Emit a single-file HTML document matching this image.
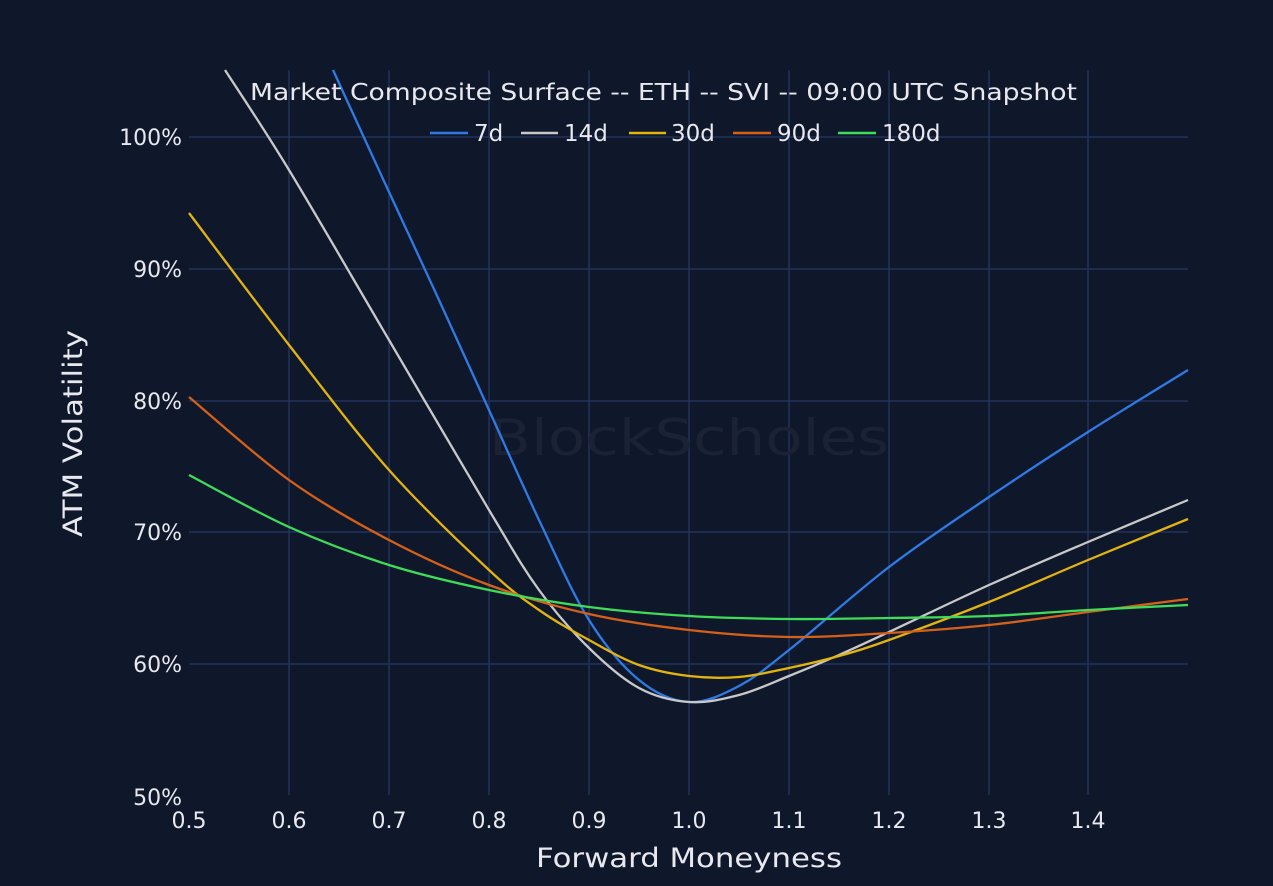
<!DOCTYPE html>
<html><head><meta charset="utf-8"><style>
body{margin:0;background:#0f182b;}
svg{display:block;font-family:"DejaVu Sans","Liberation Sans",sans-serif;}
</style></head><body>
<svg id="s" width="1273" height="886" viewBox="0 0 1273 886">
<rect width="1273" height="886" fill="#0f182b"/>
<g stroke="#22325a" stroke-width="1.5">
<line x1="289" y1="70" x2="289" y2="795"/><line x1="389" y1="70" x2="389" y2="795"/>
<line x1="489" y1="70" x2="489" y2="795"/><line x1="589" y1="70" x2="589" y2="795"/>
<line x1="689" y1="70" x2="689" y2="795"/><line x1="789" y1="70" x2="789" y2="795"/>
<line x1="889" y1="70" x2="889" y2="795"/><line x1="989" y1="70" x2="989" y2="795"/>
<line x1="1088" y1="70" x2="1088" y2="795"/>
<line x1="189" y1="137" x2="1188" y2="137"/><line x1="189" y1="269" x2="1188" y2="269"/>
<line x1="189" y1="401" x2="1188" y2="401"/><line x1="189" y1="532" x2="1188" y2="532"/>
<line x1="189" y1="664" x2="1188" y2="664"/>
</g>
<text x="689" y="455" text-anchor="middle" font-size="50" fill="#1a2233" textLength="400" lengthAdjust="spacingAndGlyphs">BlockScholes</text>
<g id="curves" fill="none" stroke-width="2.3"></g>
<text x="250" y="100" font-size="23" fill="#e8e8ee" textLength="827" lengthAdjust="spacingAndGlyphs">Market Composite Surface -- ETH -- SVI -- 09:00 UTC Snapshot</text>
<g font-size="23" fill="#e8e8ee" stroke-width="2.5">
<line x1="430" y1="133" x2="468" y2="133" stroke="#2f7ae5"/><text x="474" y="141">7d</text>
<line x1="521" y1="133" x2="558" y2="133" stroke="#c8c8c8"/><text x="564" y="141">14d</text>
<line x1="629" y1="133" x2="666" y2="133" stroke="#e3b40d"/><text x="671" y="141">30d</text>
<line x1="733" y1="133" x2="771" y2="133" stroke="#d4601a"/><text x="777" y="141">90d</text>
<line x1="838" y1="133" x2="876" y2="133" stroke="#3fdc5a"/><text x="882" y="141">180d</text>
</g>
<g font-size="22" fill="#e8e8ee" text-anchor="end">
<text x="182" y="145">100%</text><text x="182" y="277">90%</text><text x="182" y="409">80%</text>
<text x="182" y="540">70%</text><text x="182" y="672">60%</text><text x="182" y="805">50%</text>
</g>
<g font-size="22" fill="#e8e8ee" text-anchor="middle">
<text x="189" y="828">0.5</text><text x="289" y="828">0.6</text><text x="389" y="828">0.7</text>
<text x="489" y="828">0.8</text><text x="589" y="828">0.9</text><text x="689" y="828">1.0</text>
<text x="789" y="828">1.1</text><text x="889" y="828">1.2</text><text x="989" y="828">1.3</text>
<text x="1088" y="828">1.4</text>
</g>
<text x="536" y="867" font-size="27" fill="#e8e8ee" textLength="306" lengthAdjust="spacingAndGlyphs">Forward Moneyness</text>
<text transform="translate(82,537) rotate(-90)" font-size="27" fill="#e8e8ee" textLength="207" lengthAdjust="spacingAndGlyphs">ATM Volatility</text>
</svg>
<script>
var S={
"#2f7ae5":[[333,70],[389,192],[439,300],[489,410],[539,520],[589,620],[639,680],[689,702],[739,686],[789,650],[889,567],[989,497],[1088,432],[1188,370]],
"#c8c8c8":[[225,70],[289,170],[389,340],[489,510],[539,590],[589,648],[639,688],[689,702],[739,695],[789,676],[839,655],[889,632],[989,585],[1088,542],[1188,500]],
"#e3b40d":[[189,213],[289,345],[389,470],[489,570],[539,610],[589,640],[639,665],[689,676],[739,677],[789,668],[839,656],[889,640],[989,602],[1088,560],[1188,519]],
"#d4601a":[[189,397],[289,480],[389,540],[489,585],[589,614],[689,630],[789,637],[889,633],[989,625],[1088,612],[1188,599]],
"#3fdc5a":[[189,475],[289,527],[389,565],[489,590],[589,607],[689,616],[789,619],[889,618],[989,616],[1088,610],[1188,605]]};
var g=document.getElementById("curves"),ns="http://www.w3.org/2000/svg";
for(var c in S){var p=S[c],d="M"+p[0][0]+","+p[0][1];
for(var i=0;i<p.length-1;i++){var p0=p[Math.max(i-1,0)],p1=p[i],p2=p[i+1],p3=p[Math.min(i+2,p.length-1)];
d+=" C"+(p1[0]+(p2[0]-p0[0])/6)+","+(p1[1]+(p2[1]-p0[1])/6)+" "+(p2[0]-(p3[0]-p1[0])/6)+","+(p2[1]-(p3[1]-p1[1])/6)+" "+p2[0]+","+p2[1];}
var e=document.createElementNS(ns,"path");e.setAttribute("d",d);e.setAttribute("stroke",c);g.appendChild(e);}
</script>
</body></html>
